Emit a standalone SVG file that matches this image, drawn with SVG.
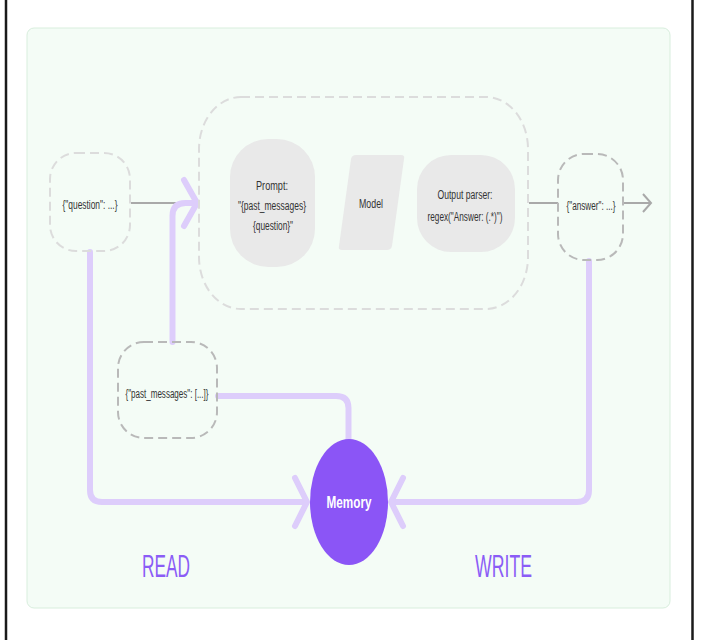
<svg xmlns="http://www.w3.org/2000/svg" width="702" height="640" viewBox="0 0 702 640">
<defs>
<style>
.lbl{font-family:"Liberation Sans",Arial,sans-serif;font-size:12.5px;fill:#333333;text-anchor:middle}
.big{font-family:"Liberation Sans",Arial,sans-serif;font-size:32px;fill:#8b5cf6;text-anchor:middle}
.dl{fill:none;stroke:#dcdcdc;stroke-width:2;stroke-dasharray:9 5}
.dd{fill:none;stroke:#b9b9b9;stroke-width:2;stroke-dasharray:9 5}
.pu{fill:none;stroke:#ddcdfb;stroke-width:6;stroke-linecap:round;stroke-linejoin:round}
.gr{fill:none;stroke:#a9a9a9;stroke-width:2}
.proc{fill:#e9e9e9}
</style>
</defs>
<rect width="702" height="640" fill="#ffffff"/>
<line x1="6" y1="0" x2="6" y2="640" stroke="#1a1a1a" stroke-width="2.5"/>
<line x1="692.5" y1="0" x2="692.5" y2="640" stroke="#1a1a1a" stroke-width="2.5"/>
<rect x="27" y="28" width="643" height="580" rx="7" fill="#f4fcf6" stroke="#d8eedd" stroke-width="1"/>

<g id="connectors">
<line class="gr" x1="131" y1="203" x2="178" y2="203"/>
<line class="gr" x1="529" y1="203" x2="558" y2="203"/>
<line class="gr" x1="623" y1="203" x2="650" y2="203"/>
<polyline class="gr" points="643,194 651,203 643,212"/>
<path class="pu" d="M172.5,342 V216 Q172.5,203 185.5,203 H195"/>
<polyline class="pu" points="184,180 197,203 184,226"/>
<path class="pu" d="M90,252 V490 Q90,502 102,502 H305"/>
<polyline class="pu" points="295,478 307,502 295,526"/>
<path class="pu" d="M589,261 V490 Q589,502 577,502 H393"/>
<polyline class="pu" points="403,478 391,502 403,526"/>
<path class="pu" d="M218,396 H336 Q348.5,396 348.5,408 V440"/>
</g>

<g id="chain">
<rect class="dl" x="199" y="97" width="329" height="212" rx="42" ry="52"/>
</g>

<g id="question">
<rect class="dl" x="50" y="153" width="80" height="98" rx="26"/>
<text class="lbl" x="90" y="209" textLength="55" lengthAdjust="spacingAndGlyphs">{"question": ...}</text>
</g>

<g id="prompt">
<rect class="proc" x="230" y="139" width="85" height="128" rx="38"/>
<text class="lbl" x="272" y="190" textLength="32" lengthAdjust="spacingAndGlyphs">Prompt:</text>
<text class="lbl" x="272" y="210" textLength="68" lengthAdjust="spacingAndGlyphs">"{past_messages}</text>
<text class="lbl" x="273" y="230" textLength="40" lengthAdjust="spacingAndGlyphs">{question}"</text>
</g>

<g id="model">
<path class="proc" d="M356,155 H401 Q405,155 404,159 L392,246 Q391,250 387,250 H342 Q338,250 339,246 L351,159 Q352,155 356,155 Z"/>
<text class="lbl" x="371" y="208" textLength="24" lengthAdjust="spacingAndGlyphs">Model</text>
</g>

<g id="parser">
<rect class="proc" x="417" y="155" width="98" height="97" rx="34"/>
<text class="lbl" x="465" y="199" textLength="55" lengthAdjust="spacingAndGlyphs">Output parser:</text>
<text class="lbl" x="465" y="221" textLength="75" lengthAdjust="spacingAndGlyphs">regex("Answer: (.*)")</text>
</g>

<g id="answer">
<rect class="dd" x="558" y="154" width="65" height="106" rx="26"/>
<text class="lbl" x="591" y="210" textLength="49" lengthAdjust="spacingAndGlyphs">{"answer": ...}</text>
</g>

<g id="past_messages">
<rect class="dd" x="118" y="342" width="99" height="96" rx="26"/>
<text class="lbl" x="167" y="398" textLength="83" lengthAdjust="spacingAndGlyphs">{"past_messages": [...]}</text>
</g>

<g id="memory">
<ellipse cx="349" cy="502" rx="39" ry="63" fill="#8b55f6"/>
<text x="349" y="508" text-anchor="middle" font-family="Liberation Sans, Arial, sans-serif" font-size="17" font-weight="bold" fill="#ffffff" textLength="45" lengthAdjust="spacingAndGlyphs">Memory</text>
</g>

<text class="big" x="166" y="577" textLength="48" lengthAdjust="spacingAndGlyphs">READ</text>
<text class="big" x="503.5" y="577" textLength="57" lengthAdjust="spacingAndGlyphs">WRITE</text>
</svg>
